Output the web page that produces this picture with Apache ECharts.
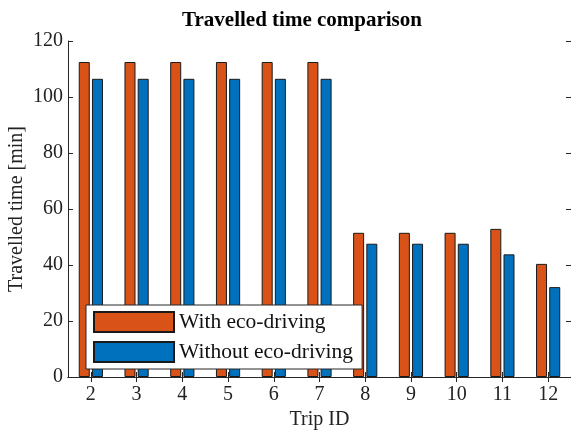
<!DOCTYPE html>
<html>
<head>
<meta charset="utf-8">
<script src="https://cdn.jsdelivr.net/npm/echarts@6/dist/echarts.min.js"></script>
<style>
  html, body { margin: 0; padding: 0; background: #fff; }
  #chart { width: 571px; height: 432px; }
</style>
</head>
<body>
<div id="chart"></div>
<script>
// trip ids on the x axis
const tripIds = ['2', '3', '4', '5', '6', '7', '8', '9', '10', '11', '12']
// travelled time in minutes
const withEco = [112.5, 112.5, 112.5, 112.5, 112.5, 112.5, 51.5, 51.5, 51.5, 52.9, 40.4]
const withoutEco = [106.5, 106.5, 106.5, 106.5, 106.5, 106.5, 47.6, 47.6, 47.6, 43.8, 32.1]
const yTicks = [0, 20, 40, 60, 80, 100, 120]

const axisColor = '#262626'
const font = 'Liberation Serif, Times New Roman, serif'

const chart = echarts.init(document.getElementById('chart'), null, { renderer: 'canvas' })

// 坐标轴刻度朝内 (matlab 风格)
const tick = { show: true, inside: true, length: 5, lineStyle: { color: axisColor } }

const option = {
  backgroundColor: '#fff',
  animation: false,
  textStyle: { fontFamily: font },
  title: {
    text: 'Travelled time comparison',
    left: 297,
    textAlign: 'center',
    top: 5,
    textStyle: { fontFamily: font, fontSize: 21, fontWeight: 'bold', color: '#000' },
  },
  grid: { left: 68, right: 0, top: 41, bottom: 55, outerBoundsMode: 'none' },
  legend: {
    orient: 'vertical',
    left: 86,
    top: 305,
    itemWidth: 80,
    itemHeight: 20,
    itemGap: 8,
    padding: [6, 9, 6, 7],
    backgroundColor: '#fff',
    borderColor: axisColor,
    borderWidth: 1,
    icon: 'rect',
    textStyle: { fontFamily: font, fontSize: 21.5, color: '#111' },
    data: ['With eco-driving', 'Without eco-driving'],
  },
  xAxis: [
    {
      type: 'category',
      data: tripIds,
      name: 'Trip ID',
      nameLocation: 'middle',
      nameGap: 33,
      nameTextStyle: { fontFamily: font, fontSize: 20, color: '#222' },
      axisLine: { lineStyle: { color: axisColor, width: 1 } },
      axisTick: { ...tick, alignWithLabel: true },
      axisLabel: { fontFamily: font, fontSize: 20, color: '#222', margin: 8 },
    },
    {
      type: 'category',
      data: tripIds,
      position: 'top',
      axisLine: { lineStyle: { color: axisColor, width: 1 } },
      axisTick: { ...tick, alignWithLabel: true },
      axisLabel: { show: false },
    },
  ],
  yAxis: [
    {
      type: 'value',
      min: yTicks[0],
      max: yTicks[yTicks.length - 1],
      interval: 20,
      name: 'Travelled time [min]',
      nameLocation: 'middle',
      nameGap: 41,
      nameMoveOverlap: false,
      nameTextStyle: { fontFamily: font, fontSize: 20, color: '#222' },
      axisLine: { show: true, lineStyle: { color: axisColor, width: 1 } },
      axisTick: tick,
      axisLabel: { fontFamily: font, fontSize: 20, color: '#222', margin: 5 },
      splitLine: { show: false },
    },
    {
      type: 'value',
      min: yTicks[0],
      max: yTicks[yTicks.length - 1],
      interval: 20,
      position: 'right',
      axisLine: { show: true, lineStyle: { color: axisColor, width: 1 } },
      axisTick: tick,
      axisLabel: { show: false },
      splitLine: { show: false },
    },
  ],
  series: [
    {
      name: 'With eco-driving',
      type: 'bar',
      data: withEco,
      barWidth: 11,
      barGap: '20%',
      itemStyle: { color: '#D95319', borderColor: '#1a1a1a', borderWidth: 1 },
    },
    {
      name: 'Without eco-driving',
      type: 'bar',
      data: withoutEco,
      barWidth: 11,
      barGap: '20%',
      itemStyle: { color: '#0072BD', borderColor: '#1a1a1a', borderWidth: 1 },
    },
  ],
}

chart.setOption(option)
</script>
</body>
</html>
